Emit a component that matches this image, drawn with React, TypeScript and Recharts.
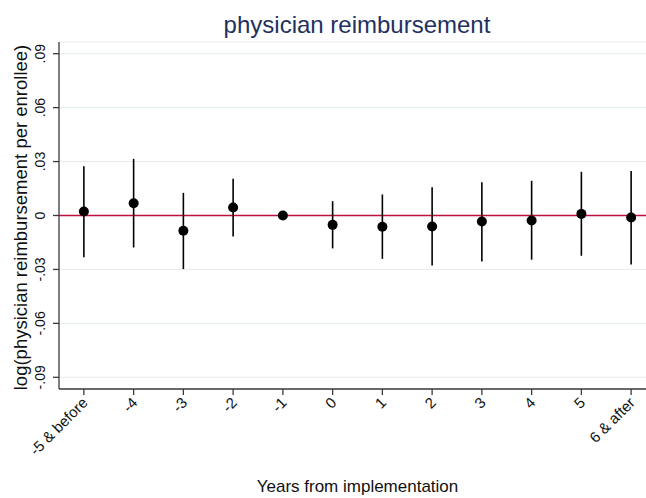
import { ScatterChart, Scatter, ErrorBar, XAxis, YAxis, CartesianGrid, ReferenceLine, Label } from 'recharts';

const YEARS = ['-5 & before', '-4', '-3', '-2', '-1', '0', '1', '2', '3', '4', '5', '6 & after'];
const ESTIMATES = [0.0022, 0.0068, -0.0085, 0.0044, 0, -0.0052, -0.0063, -0.0061, -0.0033, -0.0028, 0.0009, -0.0011];
const CI_LOW = [-0.0232, -0.0178, -0.0298, -0.0117, 0, -0.0183, -0.0241, -0.0278, -0.0256, -0.0246, -0.0224, -0.0272];
const CI_HIGH = [0.0274, 0.0315, 0.0126, 0.0204, 0, 0.008, 0.0117, 0.0157, 0.0185, 0.0193, 0.0243, 0.0248];
const Y_TICKS = [-0.09, -0.06, -0.03, 0, 0.03, 0.06, 0.09];

const FONT = '"Liberation Sans", Arial, sans-serif';
const AXIS_COLOR = '#3a3a3a';

const data = YEARS.map((label, i) => ({
  x: i,
  label,
  est: ESTIMATES[i],
  err: [ESTIMATES[i] - CI_LOW[i], CI_HIGH[i] - ESTIMATES[i]],
}));

function fmtY(v: number) {
  if (Math.abs(v) < 1e-9) return '0';
  return (v < 0 ? '-' : '') + Math.abs(v).toFixed(2).replace(/^0/, '');
}

const XTick = ({ x, y, payload }: any) => (
  <text
    x={x + 1}
    y={y + 3}
    dy="0.35em"
    transform={`rotate(-45 ${x + 1} ${y + 3})`}
    textAnchor="end"
    fontSize={15}
    fontFamily={FONT}
    fill="#111"
  >
    {YEARS[payload.value]}
  </text>
);

const YTick = ({ x, y, payload }: any) => (
  <text
    transform={`translate(${x} ${y}) rotate(-90)`}
    textAnchor="middle"
    fontSize={14}
    fontFamily={FONT}
    fill="#111"
  >
    {fmtY(payload.value)}
  </text>
);

const Dot = (props: any) => <circle cx={props.cx} cy={props.cy} r={5} fill="#000" />;

export default function App() {
  return (
    <div style={{ position: 'absolute', left: 0, top: 0, width: 646, height: 498, overflow: 'hidden', background: '#fff' }}>
      <svg width={646} height={45} style={{ position: 'absolute', left: 0, top: 0 }}>
        <text x={357} y={33} textAnchor="middle" fontSize={24} fontFamily={FONT} fill="#1f3160">
          physician reimbursement
        </text>
      </svg>
      <ScatterChart width={656} height={498} margin={{ top: 42, right: 0, bottom: 0, left: 0 }}>
        <CartesianGrid vertical={false} stroke="#e4ecef" strokeWidth={1} />
        <XAxis
          type="number"
          dataKey="x"
          domain={[-0.5, 11.5]}
          ticks={YEARS.map((_, i) => i)}
          height={109}
          tickSize={6}
          tickMargin={2}
          tick={<XTick />}
          axisLine={{ stroke: AXIS_COLOR, strokeWidth: 1.3 }}
          tickLine={{ stroke: AXIS_COLOR, strokeWidth: 1.3 }}
          interval={0}
        >
          <Label
            value="Years from implementation"
            position="insideBottom"
            offset={6}
            style={{ fontSize: 17, fontFamily: FONT, fill: '#111' }}
          />
        </XAxis>
        <YAxis
          type="number"
          dataKey="est"
          domain={[-0.0965, 0.0965]}
          ticks={Y_TICKS}
          width={59}
          tickSize={6}
          tickMargin={8}
          tick={<YTick />}
          axisLine={{ stroke: AXIS_COLOR, strokeWidth: 1.3 }}
          tickLine={{ stroke: AXIS_COLOR, strokeWidth: 1.3 }}
          allowDataOverflow
        >
          <Label
            content={(props: any) => {
              const vb = props.viewBox;
              const cx = 21;
              const cy = vb.y + vb.height / 2 + 2;
              return (
                <text
                  transform={`translate(${cx} ${cy}) rotate(-90)`}
                  textAnchor="middle"
                  dy="0.35em"
                  fontSize={18.5}
                  fontFamily={FONT}
                  fill="#111"
                >
                  log(physician reimbursement per enrollee)
                </text>
              );
            }}
          />
        </YAxis>
        <ReferenceLine y={0} stroke="#c0103f" strokeWidth={1.6} />
        <Scatter data={data} dataKey="est" shape={<Dot />} isAnimationActive={false}>
          <ErrorBar dataKey="err" direction="y" width={0} stroke="#000" strokeWidth={1.6} />
        </Scatter>
      </ScatterChart>
    </div>
  );
}
